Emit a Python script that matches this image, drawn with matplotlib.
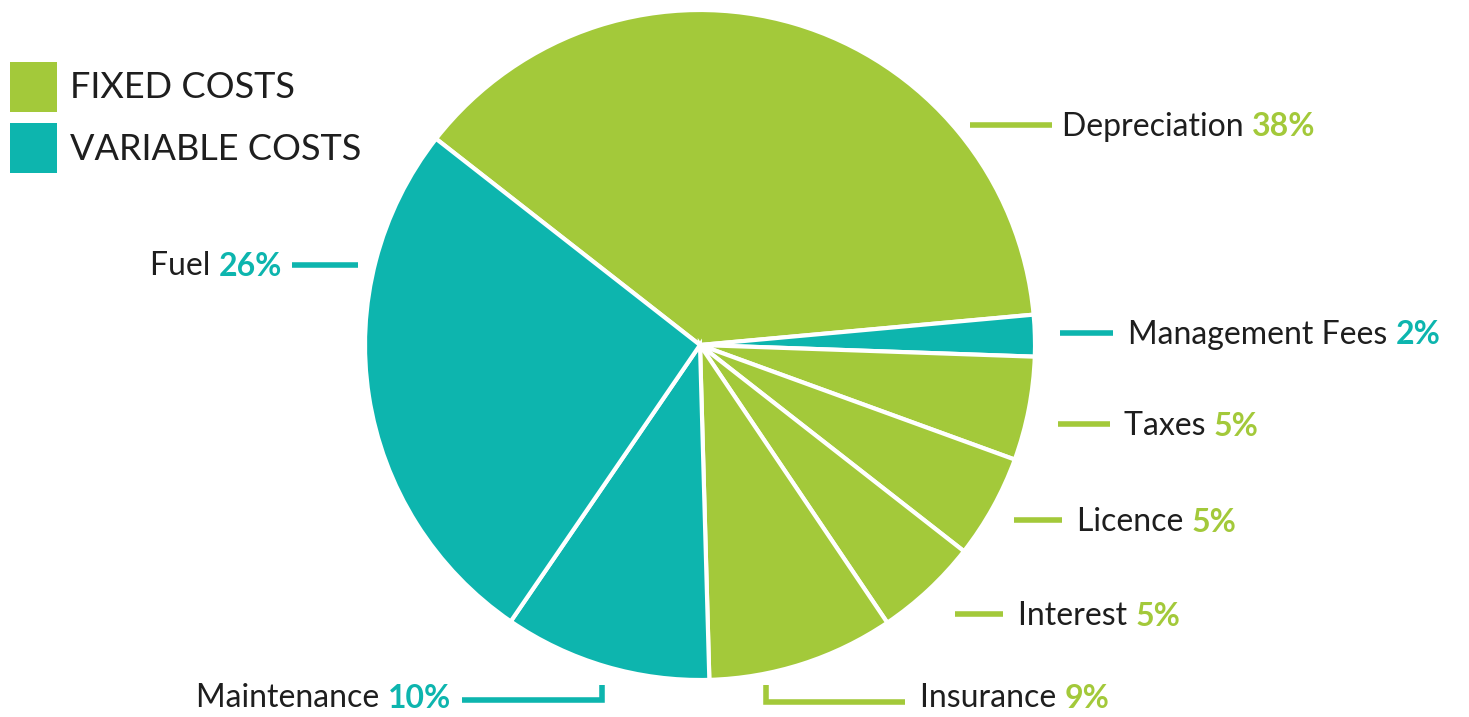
import matplotlib.pyplot as plt

GREEN = "#A3C93A"
TEAL = "#0DB5AE"
TEXT = "#1E1E1E"

CATEGORIES = [
    "Depreciation",
    "Management Fees",
    "Taxes",
    "Licence",
    "Interest",
    "Insurance",
    "Maintenance",
    "Fuel",
]
SHARES = [38, 2, 5, 5, 5, 9, 10, 26]
COST_TYPE = ["fixed", "variable", "fixed", "fixed", "fixed", "fixed", "variable", "variable"]

LEGEND_LABELS = ["FIXED COSTS", "VARIABLE COSTS"]

W, H = 1469, 717
FONT = "Lato"

# label layout in pixel space (y measured from top): leader path, text anchor, alignment
LABEL_LAYOUT = {
    "Depreciation": ([(970, 125), (1052, 125)], (1062, 127), "left"),
    "Management Fees": ([(1060, 333), (1113, 333)], (1128, 335), "left"),
    "Taxes": ([(1058, 424), (1110, 424)], (1124, 426), "left"),
    "Licence": ([(1014, 520), (1062, 520)], (1077, 522), "left"),
    "Interest": ([(955, 614), (1003, 614)], (1018, 616), "left"),
    "Insurance": ([(766, 685), (766, 702), (905, 702)], (920, 698), "left"),
    "Maintenance": ([(602, 685), (602, 700), (462, 700)], (451, 698), "right"),
    "Fuel": ([(358, 265), (292, 265)], (282, 266), "right"),
}


def color_of(kind):
    return GREEN if kind == "fixed" else TEAL


def add_label(ax, renderer, name, share, color, anchor, align):
    x, y = anchor
    y = H - y
    pct = f"{share}%"
    size = 23
    if align == "left":
        t = ax.text(x, y, name + " ", fontsize=size, color=TEXT, ha="left",
                    va="center", family=FONT)
        bb = t.get_window_extent(renderer).transformed(ax.transData.inverted())
        ax.text(bb.x1, y, pct, fontsize=size, color=color, ha="left",
                va="center", family=FONT, fontweight="bold")
    else:
        t = ax.text(x, y, pct, fontsize=size, color=color, ha="right",
                    va="center", family=FONT, fontweight="bold")
        bb = t.get_window_extent(renderer).transformed(ax.transData.inverted())
        ax.text(bb.x0, y, name + " ", fontsize=size, color=TEXT, ha="right",
                va="center", family=FONT)


def main():
    fig = plt.figure(figsize=(W / 100, H / 100), dpi=100)
    ax = fig.add_axes([0, 0, 1, 1])

    colors = [color_of(k) for k in COST_TYPE]
    ax.pie(
        SHARES,
        colors=colors,
        startangle=142,
        counterclock=False,
        center=(700, H - 345),
        radius=335,
        wedgeprops={"edgecolor": "white", "linewidth": 3},
        frame=True,
    )
    ax.set_xlim(0, W)
    ax.set_ylim(0, H)
    ax.set_aspect("equal")
    ax.axis("off")

    renderer = fig.canvas.get_renderer()

    for name, share, kind in zip(CATEGORIES, SHARES, COST_TYPE):
        path, anchor, align = LABEL_LAYOUT[name]
        xs = [p[0] for p in path]
        ys = [H - p[1] for p in path]
        ax.plot(xs, ys, color=color_of(kind), linewidth=4,
                solid_capstyle="butt", solid_joinstyle="miter")
        add_label(ax, renderer, name, share, color_of(kind), anchor, align)

    # legend squares
    for i, (label, kind) in enumerate(zip(LEGEND_LABELS, ["fixed", "variable"])):
        top = 62 + i * 61
        ax.add_patch(plt.Rectangle((10, H - top - 50), 47, 50,
                                   color=color_of(kind), linewidth=0))
        ax.text(70, H - top - 26, label, fontsize=26, color=TEXT,
                ha="left", va="center", family=FONT)

    fig.savefig("out.png", dpi=100)


if __name__ == "__main__":
    main()
